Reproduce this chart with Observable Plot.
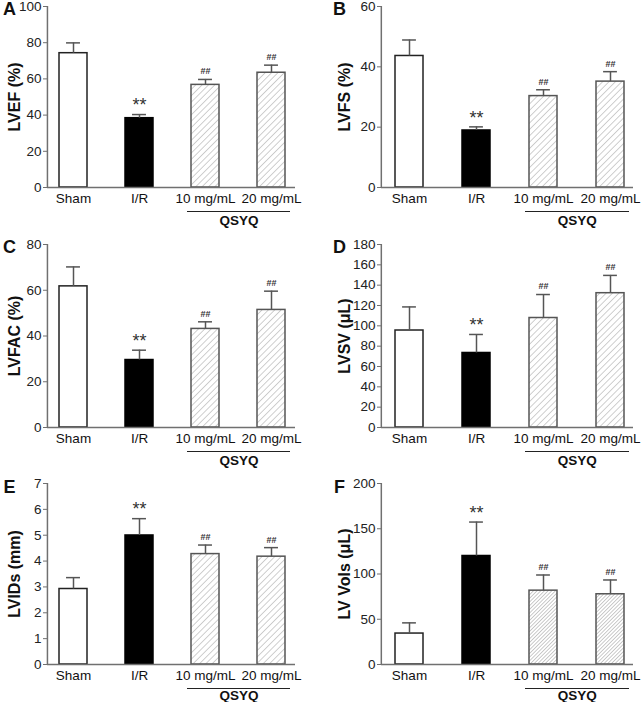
<!DOCTYPE html>
<html><head><meta charset="utf-8">
<script src="https://cdn.jsdelivr.net/npm/d3@7"></script>
<script src="https://cdn.jsdelivr.net/npm/@observablehq/plot@0.6"></script>
<style>
body{margin:0;background:#fff;}
#wrap{position:relative;width:642px;height:702px;overflow:hidden;}
#wrap > svg{position:absolute;}
</style></head><body>
<svg width="0" height="0" style="position:absolute">
<defs>
<pattern id="hatch" patternUnits="userSpaceOnUse" width="4.5" height="4.5" patternTransform="rotate(45)">
<rect width="4.5" height="4.5" fill="#fff"/>
<line x1="0" y1="0" x2="0" y2="4.5" stroke="#b0b0b0" stroke-width="1.2"/>
</pattern>
<pattern id="hatch2" patternUnits="userSpaceOnUse" width="2.6" height="2.6" patternTransform="rotate(45)">
<rect width="2.6" height="2.6" fill="#fff"/>
<line x1="0" y1="0" x2="0" y2="2.6" stroke="#a0a0a0" stroke-width="1.1"/>
</pattern>
</defs></svg>
<div id="wrap"></div>
<script>
const categories = ["Sham", "I/R", "10 mg/mL", "20 mg/mL"];
const sigMarks = ["", "**", "##", "##"];

const lvef = [74.2, 38.3, 56.7, 63.4];
const lvefErr = [5.7, 2.0, 3.0, 4.2];
const lvfs = [43.6, 18.9, 30.3, 35.1];
const lvfsErr = [5.3, 1.2, 2.1, 3.3];
const lvfac = [61.7, 29.5, 43.1, 51.4];
const lvfacErr = [8.5, 4.3, 3.1, 8.2];
const lvsv = [95.4, 73.3, 107.7, 132.1];
const lvsvErr = [23.2, 18.2, 23.1, 17.5];
const lvids = [2.92, 4.99, 4.27, 4.17];
const lvidsErr = [0.44, 0.65, 0.35, 0.35];
const lvvols = [34.2, 119.9, 81.6, 77.6];
const lvvolsErr = [11.8, 37.5, 17.3, 15.8];

const ticksA = [0, 20, 40, 60, 80, 100];
const ticksB = [0, 20, 40, 60];
const ticksC = [0, 20, 40, 60, 80];
const ticksD = [0, 20, 40, 60, 80, 100, 120, 140, 160, 180];
const ticksE = [0, 1, 2, 3, 4, 5, 6, 7];
const ticksF = [0, 50, 100, 150, 200];

const panels = [
  {letter: "A", label: "LVEF (%)", values: lvef, errs: lvefErr, ticks: ticksA, col: 0, row: 0},
  {letter: "B", label: "LVFS (%)", values: lvfs, errs: lvfsErr, ticks: ticksB, col: 1, row: 0},
  {letter: "C", label: "LVFAC (%)", values: lvfac, errs: lvfacErr, ticks: ticksC, col: 0, row: 1},
  {letter: "D", label: "LVSV (μL)", values: lvsv, errs: lvsvErr, ticks: ticksD, col: 1, row: 1},
  {letter: "E", label: "LVIDs (mm)", values: lvids, errs: lvidsErr, ticks: ticksE, col: 0, row: 2},
  {letter: "F", label: "LV Vols (μL)", values: lvvols, errs: lvvolsErr, ticks: ticksF, col: 1, row: 2, dense: true}
];

// layout geometry per column / row
const colGeom = [
  {left: 0, ml: 47, mr: 26, r0: 59, r1: 288, titleX: 14, letterX: 9},
  {left: 321, ml: 60, mr: 9, r0: 74, r1: 305, titleX: 23, letterX: 18}
];
const rowGeom = [
  {top: 0, mt: 6, zero: 187, letterY: 9, qDy: 33},
  {top: 234, mt: 10, zero: 193, letterY: 13, qDy: 33},
  {top: 468, mt: 15, zero: 196, letterY: 18.5, qDy: 31}
];
const W = 321, H = 234, PAD = 0.58;

const wrap = document.getElementById("wrap");
for (const p of panels) {
  const cg = colGeom[p.col], rg = rowGeom[p.row];
  const rows = categories.map((c, i) => ({cat: c, v: p.values[i], e: p.errs[i], top: p.values[i] + p.errs[i], sig: sigMarks[i]}));
  const step = (cg.r1 - cg.r0) / (categories.length - PAD);
  const bw = step * (1 - PAD);
  const axisColor = "#707070";
  const plot = Plot.plot({
    width: W, height: H,
    marginLeft: cg.ml, marginRight: cg.mr, marginTop: rg.mt, marginBottom: H - rg.zero,
    style: {fontFamily: "Arial, 'Liberation Sans', sans-serif", fontSize: "13.5px", color: "#222", background: "transparent", overflow: "visible"},
    x: {domain: categories, range: [cg.r0, cg.r1], paddingInner: PAD, paddingOuter: 0, align: 0, axis: null},
    y: {domain: [p.ticks[0], p.ticks[p.ticks.length - 1]], axis: null},
    marks: [
      Plot.axisY({ticks: p.ticks, tickFormat: d => String(d), tickSize: 4, tickPadding: 2, stroke: axisColor, fill: "#222", label: null, fontSize: 13.5}),
      Plot.axisX({tickSize: 0, tickPadding: 6, fill: "#111", label: null, fontSize: 13.5}),
      Plot.barY(rows.filter(d => d.cat === "Sham"), {x: "cat", y: "v", fill: "white", stroke: "#222", strokeWidth: 1.5}),
      Plot.barY(rows.filter(d => d.cat === "I/R"), {x: "cat", y: "v", fill: "black", stroke: "black", strokeWidth: 1.5}),
      Plot.barY(rows.filter(d => d.cat !== "Sham" && d.cat !== "I/R"), {x: "cat", y: "v", fill: p.dense ? "url(#hatch2)" : "url(#hatch)", stroke: "#555", strokeWidth: 1.5}),
      Plot.ruleX(rows, {x: "cat", y1: "v", y2: "top", stroke: "#555", strokeWidth: 1.5}),
      Plot.tickY(rows, {x: "cat", y: "top", stroke: "#555", strokeWidth: 1.5, insetLeft: bw / 4, insetRight: bw / 4}),
      Plot.text(rows.filter(d => d.sig === "**"), {x: "cat", y: "top", text: "sig", dy: -9, fontSize: 18, fill: "#333"}),
      Plot.text(rows.filter(d => d.sig === "##"), {x: "cat", y: "top", text: "sig", dy: -8, fontSize: 9, fontWeight: "bold", fill: "#333"}),
      Plot.ruleX([0], {x: () => categories[0], y1: p.ticks[0], y2: p.ticks[p.ticks.length - 1], dx: -(cg.r0 - cg.ml) - bw / 2, stroke: axisColor, strokeWidth: 1.5}),
      Plot.ruleY([p.ticks[0]], {stroke: axisColor, strokeWidth: 1.5}),
      Plot.ruleY([{a: categories[2], b: categories[3], y: p.ticks[0]}], {x1: "a", x2: "b", y: "y", dy: 24, insetLeft: -4, insetRight: -5, stroke: "#222", strokeWidth: 1}),
      Plot.text([{c: categories[2], y: p.ticks[0], t: "QSYQ"}], {x: "c", y: "y", text: "t", dx: step / 2, dy: rg.qDy, fontWeight: "bold", fontSize: 13.5, fill: "#111"}),
      Plot.text([p.label], {frameAnchor: "left", rotate: -90, dx: -(cg.ml - cg.titleX), fontWeight: "bold", fontSize: 16, textAnchor: "middle", fill: "#111"}),
      Plot.text([p.letter], {frameAnchor: "top-left", dx: -(cg.ml - cg.letterX), dy: rg.letterY - rg.mt, textAnchor: "middle", lineAnchor: "middle", fontWeight: "bold", fontSize: 18, fill: "#111"})
    ]
  });
  plot.style.left = cg.left + "px";
  plot.style.top = rg.top + "px";
  wrap.appendChild(plot);
}
</script>
</body></html>
